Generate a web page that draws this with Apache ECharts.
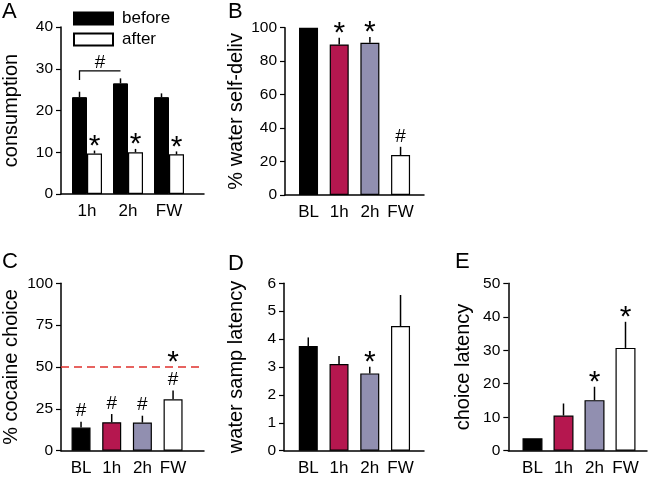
<!DOCTYPE html>
<html><head><meta charset="utf-8">
<script src="https://cdn.jsdelivr.net/npm/echarts@6/dist/echarts.min.js"></script>
<style>html,body{margin:0;padding:0;background:#fff}#c{width:648px;height:477px}</style>
</head><body><div id="c"></div>
<script>
// ---------- DATA ----------
const catsA = ['1h', '2h', 'FW'];
const beforeA = [23.2, 26.5, 23.2];
const beforeSemA = [1.3, 1.2, 0.9];
const afterA = [9.7, 10.0, 9.5];
const afterSemA = [0.7, 0.8, 0.7];
const beforeMarksA = [[], [], []];
const afterMarksA = [['*'], ['*'], ['*']];
const bracketA = {from: 0, to: 1, level: 29.5, drop: 27.3, mark: '#'};

const cats = ['BL', '1h', '2h', 'FW'];
const valB = [100, 90, 91, 23.9];
const semB = [0, 4, 3.5, 4.9];
const marksB = [[], ['*'], ['*'], ['#']];

const valC = [13.8, 17.0, 16.8, 30.7];
const semC = [3.5, 4.9, 4.1, 5.2];
const marksC = [['#'], ['#'], ['#'], ['#', '*']];
const refLineC = 50;

const valD = [3.75, 3.11, 2.77, 4.47];
const semD = [0.31, 0.28, 0.24, 1.11];
const marksD = [[], [], ['*'], []];

const valE = [3.7, 10.5, 15.1, 30.7];
const semE = [0, 3.6, 4.0, 7.8];
const marksE = [[], [], ['*'], ['*']];

const yTicks = {A: [0, 40, 10], B: [0, 100, 20], C: [0, 100, 25], D: [0, 6, 1], E: [0, 50, 10]};
const yNames = {A: 'consumption', B: '% water self-deliv', C: '% cocaine choice', D: 'water samp latency', E: 'choice latency'};

// ---------- STYLE / LAYOUT ----------
const FF = 'Liberation Sans, Arial, sans-serif';
const barColors = ['#000000', '#b5174f', '#918fb0', '#ffffff'];
const layouts = {
  A: {frame: {left: 60, top: 27, width: 144, height: 167}, bars: {left: 66.5, width: 123}, nameGap: 40, barW: 15},
  B: {frame: {left: 285, top: 27.7, width: 139, height: 167.3}, bars: {left: 293.2, width: 122.7}, nameGap: 39, barW: 19},
  C: {frame: {left: 60, top: 283.3, width: 144, height: 167.4}, bars: {left: 65.7, width: 122.7}, nameGap: 40, barW: 19},
  D: {frame: {left: 284, top: 283.3, width: 140, height: 167.4}, bars: {left: 292.9, width: 123}, nameGap: 38, barW: 19},
  E: {frame: {left: 508.3, top: 283.3, width: 138.7, height: 167.4}, bars: {left: 517, width: 124}, nameGap: 35, barW: 20}
};
const letterPos = {A: [2, 1], B: [228, 1], C: [2, 251], D: [228, 253], E: [455, 251]};

const grid = [], xAxis = [], yAxis = [], series = [], title = [];
const panelIdx = {};
['A', 'B', 'C', 'D', 'E'].forEach((p, k) => {
  const L = layouts[p];
  const fi = 2 * k, bi = 2 * k + 1;
  panelIdx[p] = {fi, bi};
  const [mn, mx, iv] = yTicks[p];
  grid.push({left: L.frame.left, top: L.frame.top, width: L.frame.width, height: L.frame.height});
  grid.push({left: L.bars.left, top: L.frame.top, width: L.bars.width, height: L.frame.height});
  xAxis.push({gridIndex: fi, type: 'value', min: 0, max: 1, axisLine: {show: true, lineStyle: {color: '#000', width: 1.5}},
    axisTick: {show: false}, axisLabel: {show: false}, splitLine: {show: false}});
  xAxis.push({gridIndex: bi, type: 'category', data: p === 'A' ? catsA : cats, axisLine: {show: false}, axisTick: {show: false},
    axisLabel: {color: '#000', fontSize: 17, fontFamily: FF, margin: 9, interval: 0}, splitLine: {show: false}});
  yAxis.push({gridIndex: fi, type: 'value', min: mn, max: mx, interval: iv,
    axisLine: {show: true, lineStyle: {color: '#000', width: 1.5}},
    axisTick: {show: true, length: 5, lineStyle: {color: '#000', width: 1.2}},
    axisLabel: {color: '#000', fontSize: 15.5, fontFamily: FF, margin: 8},
    splitLine: {show: false},
    name: yNames[p], nameLocation: 'middle', nameGap: L.nameGap,
    nameTextStyle: {color: '#000', fontSize: 20, fontFamily: FF}});
  yAxis.push({gridIndex: bi, type: 'value', min: mn, max: mx, interval: iv, show: false});
  title.push({text: p, left: letterPos[p][0], top: letterPos[p][1], padding: 0,
    textStyle: {fontSize: 22, fontWeight: 'normal', color: '#000', fontFamily: FF}});
});

function errSeries(bi, vals, sems, marks, dx) {
  return {
    type: 'custom', xAxisIndex: bi, yAxisIndex: bi, z: 3, silent: true,
    data: vals.map((v, i) => [i, v, v + sems[i]]),
    renderItem: function (params, api) {
      const i = params.dataIndex;
      const p0 = api.coord([api.value(0), api.value(1)]);
      const p1 = api.coord([api.value(0), api.value(2)]);
      const x = p0[0] + dx;
      const children = [];
      if (p1[1] < p0[1] - 0.5) {
        children.push({type: 'line', shape: {x1: x, y1: p0[1], x2: x, y2: p1[1]}, style: {stroke: '#000', lineWidth: 1.5}});
      }
      let y = p1[1] - 3;
      (marks[i] || []).forEach(m => {
        if (m === '*') {
          children.push({type: 'text', style: {text: '*', x: x, y: y + 14, align: 'center', verticalAlign: 'bottom', fontSize: 30, fontFamily: FF, fill: '#000'}});
          y -= 12;
        } else {
          children.push({type: 'text', style: {text: m, x: x, y: y + 2, align: 'center', verticalAlign: 'bottom', fontSize: 19, fontFamily: FF, fill: '#000'}});
          y -= 24;
        }
      });
      return {type: 'group', children};
    }
  };
}

// Panel A
{
  const {bi} = panelIdx.A;
  const w = layouts.A.barW;
  series.push({name: 'before', type: 'bar', xAxisIndex: bi, yAxisIndex: bi, data: beforeA, barWidth: w, barGap: '0%',
    itemStyle: {color: '#000', borderColor: '#000', borderWidth: 1}});
  series.push({name: 'after', type: 'bar', xAxisIndex: bi, yAxisIndex: bi, data: afterA, barWidth: w, barGap: '0%',
    itemStyle: {color: '#fff', borderColor: '#000', borderWidth: 1.2}});
  series.push(errSeries(bi, beforeA, beforeSemA, beforeMarksA, -w / 2));
  series.push(errSeries(bi, afterA, afterSemA, afterMarksA, w / 2));
  series.push({
    type: 'custom', xAxisIndex: bi, yAxisIndex: bi, z: 3, silent: true,
    data: [[bracketA.from, bracketA.to, bracketA.level, bracketA.drop]],
    renderItem: function (params, api) {
      const a = api.coord([api.value(0), api.value(2)]);
      const b = api.coord([api.value(1), api.value(2)]);
      const d = api.coord([api.value(0), api.value(3)]);
      const x1 = a[0] - w / 2, x2 = b[0] - w / 2;
      return {type: 'group', children: [
        {type: 'polyline', shape: {points: [[x1, d[1]], [x1, a[1]], [x2, a[1]]]}, style: {stroke: '#000', lineWidth: 1.3, fill: null}},
        {type: 'text', style: {text: bracketA.mark, x: (x1 + x2) / 2, y: a[1] + 1, align: 'center', verticalAlign: 'bottom', fontSize: 19, fontFamily: FF, fill: '#000'}}
      ]};
    }
  });
}

function coloredBars(p, vals, sems, marks) {
  const {bi} = panelIdx[p];
  series.push({type: 'bar', xAxisIndex: bi, yAxisIndex: bi, barWidth: layouts[p].barW,
    data: vals.map((v, i) => ({value: v, itemStyle: {color: barColors[i], borderColor: '#000', borderWidth: 1.2}}))});
  series.push(errSeries(bi, vals, sems, marks, 0));
}
coloredBars('B', valB, semB, marksB);
coloredBars('C', valC, semC, marksC);
coloredBars('D', valD, semD, marksD);
coloredBars('E', valE, semE, marksE);

// reference line in C
series.push({type: 'line', xAxisIndex: panelIdx.C.fi, yAxisIndex: panelIdx.C.fi, data: [], silent: true,
  markLine: {symbol: 'none', silent: true, label: {show: false}, data: [{yAxis: refLineC}],
    lineStyle: {color: '#e0302c', type: [8, 5], width: 1.5}}});

const chart = echarts.init(document.getElementById('c'), null, {renderer: 'canvas'});
chart.setOption({
  animation: false,
  backgroundColor: '#fff',
  title,
  legend: {data: ['before', 'after'], orient: 'vertical', left: 73, top: 10, padding: 0, itemWidth: 39, itemHeight: 12, itemGap: 4,
    icon: 'rect', selectedMode: false, textStyle: {fontSize: 17, fontFamily: FF, color: '#000', padding: [0, 0, 0, 4]}},
  grid, xAxis, yAxis, series
});
</script></body></html>
